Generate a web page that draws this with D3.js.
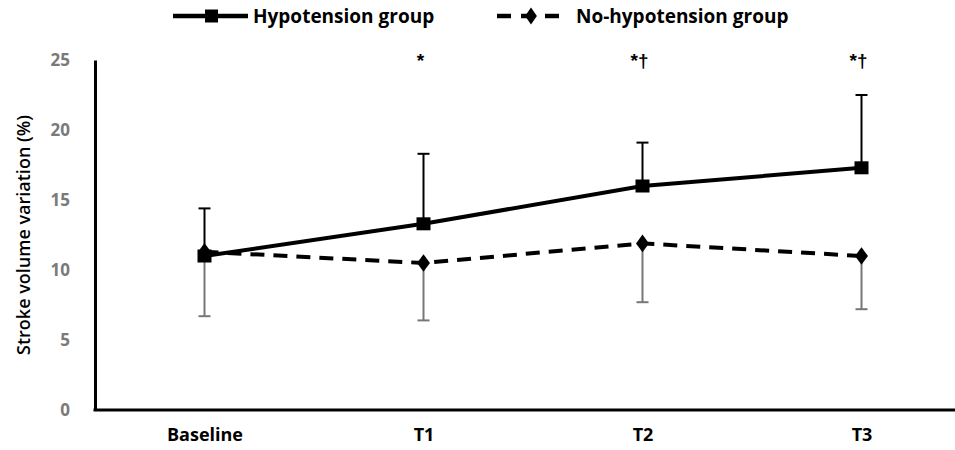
<!DOCTYPE html>
<html>
<head>
<meta charset="utf-8">
<script src="https://cdn.jsdelivr.net/npm/d3@7"></script>
<style>
  body { margin: 0; background: #fff; }
  text { font-family: "Open Sans", Lato, sans-serif; }
</style>
</head>
<body>
<div id="chart"></div>
<script>
// Data
const timepoints = ["Baseline", "T1", "T2", "T3"];
const hypoMean = [11.0, 13.3, 16.0, 17.3];
const hypoSD = [3.4, 5.0, 3.1, 5.2];
const noHypoMean = [11.3, 10.5, 11.9, 11.0];
const noHypoSD = [4.6, 4.1, 4.2, 3.8];
const markers = ["", "*", "*\u2020", "*\u2020"];
const yTicks = [0, 5, 10, 15, 20, 25];

const width = 955, height = 450;
const margin = {top: 60, right: 0, bottom: 40, left: 95};

const svg = d3.select("#chart")
    .append("svg")
    .attr("width", width)
    .attr("height", height);

//Scales
const x = d3.scalePoint()
    .domain(timepoints)
    .range([margin.left, 971])
    .padding(0.5);

const y = d3.scaleLinear()
    .domain([0, 25])
    .range([410, 60]);

//Y axis
const yAxis = svg.append("g")
    .attr("transform", `translate(${margin.left},0)`)
    .call(d3.axisLeft(y).tickValues(yTicks).tickSize(0).tickPadding(25));
yAxis.select(".domain").attr("stroke", "#000").attr("stroke-width", 3);
yAxis.selectAll("text")
    .style("font-family", "'Open Sans', sans-serif")
    .style("font-size", "17px")
    .style("font-weight", "bold")
    .attr("fill", "#7a7a7a");

//X axis
const xAxis = svg.append("g")
    .attr("transform", `translate(0,410)`)
    .call(d3.axisBottom(x).tickSize(0).tickPadding(18));
xAxis.select(".domain").remove();
xAxis.append("line")
    .attr("x1", margin.left - 1.5).attr("x2", 955)
    .attr("stroke", "#000").attr("stroke-width", 3);
xAxis.selectAll("text")
    .style("font-family", "'Open Sans', sans-serif")
    .style("font-size", "18px")
    .style("font-weight", "bold")
    .attr("fill", "#000");

//Y title
svg.append("text")
    .attr("transform", "translate(30,235) rotate(-90)")
    .attr("text-anchor", "middle")
    .style("font-size", "18px")
    .style("font-weight", 600)
    .text("Stroke volume variation (%)");

const hypo = timepoints.map((t, i) => ({t, m: hypoMean[i], sd: hypoSD[i]}));
const noHypo = timepoints.map((t, i) => ({t, m: noHypoMean[i], sd: noHypoSD[i]}));

//Error bars: hypotension upward (black), no-hypotension downward (grey)
const capW = 6;
svg.append("g").selectAll("g")
    .data(hypo)
    .join("g")
    .each(function(d) {
        const g = d3.select(this);
        g.append("line").attr("x1", x(d.t)).attr("x2", x(d.t))
            .attr("y1", y(d.m)).attr("y2", y(d.m + d.sd))
            .attr("stroke", "#000").attr("stroke-width", 2);
        g.append("line").attr("x1", x(d.t) - capW).attr("x2", x(d.t) + capW)
            .attr("y1", y(d.m + d.sd)).attr("y2", y(d.m + d.sd))
            .attr("stroke", "#000").attr("stroke-width", 2);
    });

svg.append("g").selectAll("g")
    .data(noHypo)
    .join("g")
    .each(function(d) {
        const g = d3.select(this);
        g.append("line").attr("x1", x(d.t)).attr("x2", x(d.t))
            .attr("y1", y(d.m)).attr("y2", y(d.m - d.sd))
            .attr("stroke", "#777").attr("stroke-width", 2);
        g.append("line").attr("x1", x(d.t) - capW).attr("x2", x(d.t) + capW)
            .attr("y1", y(d.m - d.sd)).attr("y2", y(d.m - d.sd))
            .attr("stroke", "#777").attr("stroke-width", 2);
    });

//Lines
const line = d3.line().x(d => x(d.t)).y(d => y(d.m));

svg.append("path")
    .datum(noHypo)
    .attr("d", line)
    .attr("fill", "none")
    .attr("stroke", "#000")
    .attr("stroke-width", 4)
    .attr("stroke-dasharray", "14,9");

svg.append("path")
    .datum(hypo)
    .attr("d", line)
    .attr("fill", "none")
    .attr("stroke", "#000")
    .attr("stroke-width", 4);

//Markers
const diamond = d3.symbol().type(d3.symbolDiamond).size(110);
svg.append("g").selectAll("path")
    .data(noHypo)
    .join("path")
    .attr("transform", d => `translate(${x(d.t)},${y(d.m)}) scale(1.15,0.9)`)
    .attr("d", diamond)
    .attr("fill", "#000");

svg.append("g").selectAll("rect")
    .data(hypo)
    .join("rect")
    .attr("x", d => x(d.t) - 7)
    .attr("y", d => y(d.m) - 6.5)
    .attr("width", 14)
    .attr("height", 13)
    .attr("fill", "#000");

//Significance marks
svg.append("g").selectAll("text")
    .data(timepoints)
    .join("text")
    .attr("x", d => x(d) - 3)
    .attr("y", 67)
    .attr("text-anchor", "middle")
    .attr("fill", "#000")
    .style("font-family", "'Liberation Sans', Arial, sans-serif")
    .style("font-size", "19px")
    .style("font-weight", "bold")
    .text((d, i) => markers[i]);

//Legend
const lg = svg.append("g");
lg.append("line").attr("x1", 173).attr("x2", 248).attr("y1", 16).attr("y2", 16)
    .attr("stroke", "#000").attr("stroke-width", 4.5);
lg.append("rect").attr("x", 205).attr("y", 9.5).attr("width", 13).attr("height", 13).attr("fill", "#000");
lg.append("text").attr("x", 253).attr("y", 23)
    .style("font-size", "19px").style("font-weight", "bold")
    .text("Hypotension group");

lg.append("line").attr("x1", 497).attr("x2", 560).attr("y1", 16).attr("y2", 16)
    .attr("stroke", "#000").attr("stroke-width", 4.5).attr("stroke-dasharray", "14,10");
lg.append("path")
    .attr("transform", "translate(531,16) scale(1.1,0.9)")
    .attr("d", d3.symbol().type(d3.symbolDiamond).size(100))
    .attr("fill", "#000");
lg.append("text").attr("x", 576).attr("y", 23)
    .style("font-size", "19px").style("font-weight", "bold")
    .text("No-hypotension group");
</script>
</body>
</html>
